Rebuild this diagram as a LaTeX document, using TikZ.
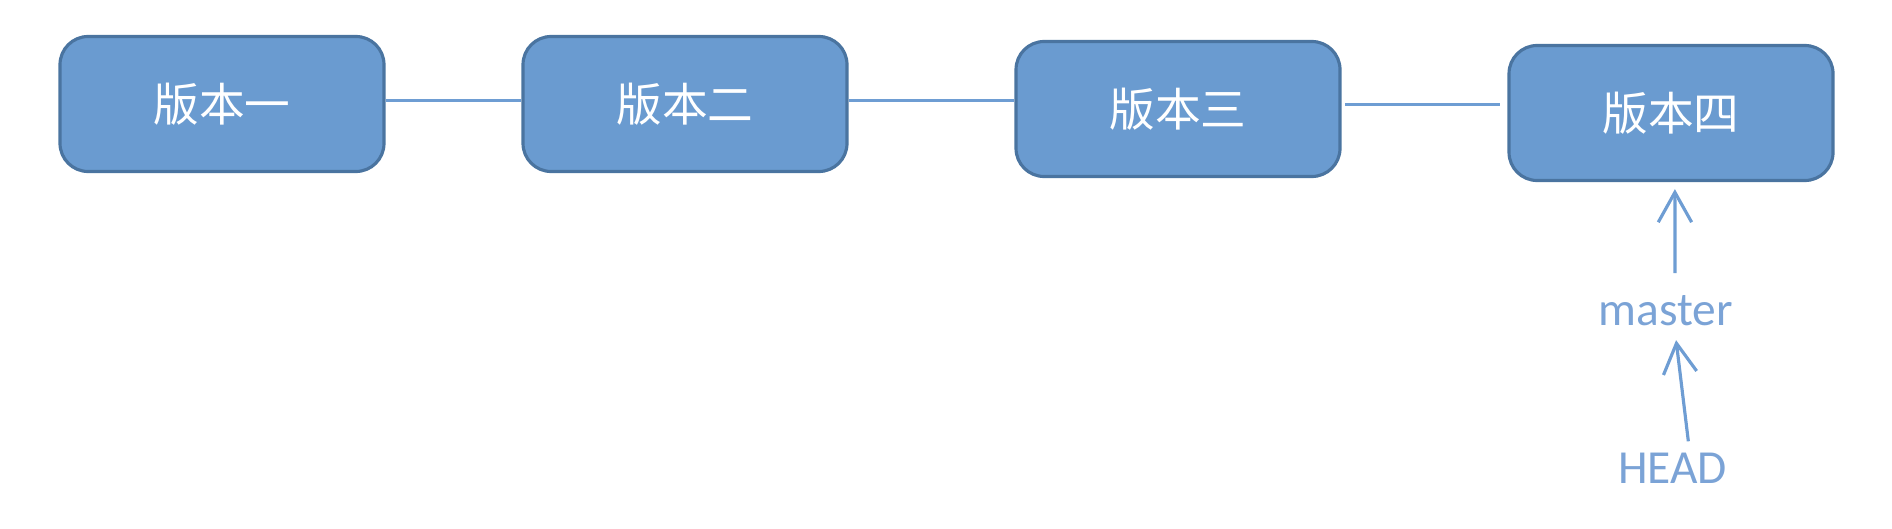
\documentclass[tikz,border=0pt]{standalone}
\usepackage{fontspec}
\setmainfont{Carlito}
\newfontfamily\cjk{Noto Sans CJK SC}
\usetikzlibrary{arrows.meta}
\definecolor{boxfill}{HTML}{6A9BD0}
\definecolor{boxline}{HTML}{4A74A0}
\definecolor{linkline}{HTML}{6E9DD3}
\definecolor{reftext}{HTML}{7BA3D6}
\tikzset{
  version/.style={draw=boxline,line width=0.9pt,fill=boxfill,rounded corners=8pt,
    minimum width=3.24cm,minimum height=1.35cm,text=white,font=\cjk\fontsize{13}{15}\selectfont},
  link/.style={draw=linkline,line width=0.9pt},
  ref/.style={text=reftext,font=\fontsize{13.5}{16}\selectfont,inner sep=0pt,anchor=base},
  pointer/.style={draw=linkline,line width=0.9pt,-{Straight Barb[length=8.5pt,width=9.5pt,line width=0.9pt]}}
}
\begin{document}
\begin{tikzpicture}
    \useasboundingbox (0,0) rectangle (18.92,5.28);
    \foreach \n/\x/\y/\t in {1/2.22/4.24/版本一,2/6.85/4.24/版本二,3/11.78/4.19/版本三,4/16.71/4.15/版本四}
      \node[version] (v\n) at (\x,\y) {\t};
    \draw[link] ([yshift=1pt]v1.east) -- ([yshift=1pt]v1.east -| v2.west);
    \draw[link] ([yshift=1pt]v2.east) -- ([yshift=1pt]v2.east -| v3.west);
    \draw[link] ([xshift=1pt,yshift=1.2pt]v3.east) -- ([xshift=-2pt,yshift=1.2pt]v3.east -| v4.west);
    \node[ref] (master) at (16.655,2.03) {master};
    \node[ref] (head) at (16.725,0.45) {HEAD};
    \draw[pointer] ([xshift=2.7pt,yshift=6pt]master.north) -- ([xshift=1.1pt,yshift=-2pt]v4.south);
    \draw[pointer] ([xshift=4.5pt,yshift=3pt]head.north) -- ([xshift=3pt,yshift=-4pt]master.south);
\end{tikzpicture}
\end{document}
